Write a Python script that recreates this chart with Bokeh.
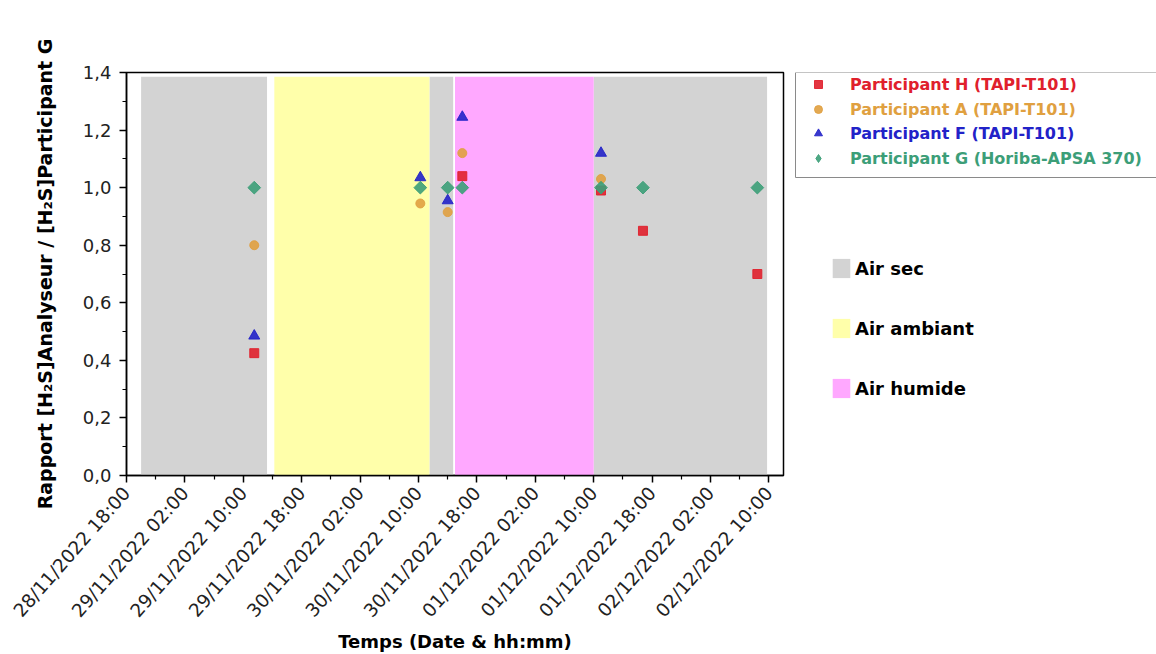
from datetime import datetime, timezone
from math import pi

from bokeh.plotting import figure
from bokeh.layouts import row
from bokeh.models import (Range1d, FixedTicker, DatetimeTickFormatter, CustomJSTickFormatter,
                          Legend, LegendItem, BoxAnnotation, ColumnDataSource)
from bokeh.embed import file_html
from bokeh.resources import INLINE

FMT = "%d/%m/%Y %H:%M"


def ms(s):
    return datetime.strptime(s, FMT).replace(tzinfo=timezone.utc).timestamp() * 1000.0


# ---------------- data ----------------
x_tick_labels = ["28/11/2022 18:00", "29/11/2022 02:00", "29/11/2022 10:00", "29/11/2022 18:00",
                 "30/11/2022 02:00", "30/11/2022 10:00", "30/11/2022 18:00", "01/12/2022 02:00",
                 "01/12/2022 10:00", "01/12/2022 18:00", "02/12/2022 02:00", "02/12/2022 10:00"]
x_start = "28/11/2022 18:00"
x_end = "02/12/2022 12:00"
y_ticks = [0.0, 0.2, 0.4, 0.6, 0.8, 1.0, 1.2, 1.4]
y_minor = [0.1, 0.3, 0.5, 0.7, 0.9, 1.1, 1.3]

period_start = ["28/11/2022 20:00", "29/11/2022 14:15", "30/11/2022 11:30", "30/11/2022 15:00", "01/12/2022 10:00"]
period_end = ["29/11/2022 13:15", "30/11/2022 11:30", "30/11/2022 14:45", "01/12/2022 10:00", "02/12/2022 09:45"]
period_type = ["Air sec", "Air ambiant", "Air sec", "Air humide", "Air sec"]
period_kinds = ["Air sec", "Air ambiant", "Air humide"]
period_top = 1.385

h_times = ["29/11/2022 11:30", "30/11/2022 16:00", "01/12/2022 11:00", "01/12/2022 16:45", "02/12/2022 08:25"]
h_ratio = [0.425, 1.04, 0.99, 0.85, 0.70]

a_times = ["29/11/2022 11:30", "30/11/2022 10:15", "30/11/2022 14:00", "30/11/2022 16:00", "01/12/2022 11:00"]
a_ratio = [0.80, 0.945, 0.915, 1.12, 1.03]

f_times = ["29/11/2022 11:30", "30/11/2022 10:15", "30/11/2022 14:00", "30/11/2022 16:00", "01/12/2022 11:00"]
f_ratio = [0.485, 1.035, 0.955, 1.245, 1.12]

g_times = ["29/11/2022 11:30", "30/11/2022 10:15", "30/11/2022 14:00", "30/11/2022 16:00",
           "01/12/2022 11:00", "01/12/2022 16:45", "02/12/2022 08:25"]
g_ratio = [1.0, 1.0, 1.0, 1.0, 1.0, 1.0, 1.0]

series_names = ["Participant H (TAPI-T101)", "Participant A (TAPI-T101)",
                "Participant F (TAPI-T101)", "Participant G (Horiba-APSA 370)"]

# ---------------- style ----------------
FONT = "DejaVu Sans"
period_colors = {"Air sec": "#D3D3D3", "Air ambiant": "#FFFFAA", "Air humide": "#FFA8FF"}
c_h, c_a, c_f, c_g = "#E0202C", "#E0A040", "#2222C8", "#3C9E78"
marker_styles = [dict(marker="square", size=9, angle=0.0, color=c_h),
                 dict(marker="circle", size=9, angle=0.0, color=c_a),
                 dict(marker="triangle", size=11, angle=0.0, color=c_f),
                 dict(marker="square", size=9, angle=pi / 4, color=c_g)]
legend_marker_styles = [dict(marker="square", size=7, angle=0.0, color=c_h),
                        dict(marker="circle", size=7, angle=0.0, color=c_a),
                        dict(marker="triangle", size=9, angle=0.0, color=c_f),
                        dict(marker="diamond", size=12, angle=0.0, color=c_g)]

# ---------------- sources ----------------
period_sources = {}
for kind in period_kinds:
    idx = [i for i, t in enumerate(period_type) if t == kind]
    period_sources[kind] = ColumnDataSource(dict(left=[ms(period_start[i]) for i in idx],
                                                 right=[ms(period_end[i]) for i in idx],
                                                 bottom=[0.0] * len(idx), top=[period_top] * len(idx)))
series_sources = [ColumnDataSource(dict(x=[ms(t) for t in times], y=vals))
                  for times, vals in zip([h_times, a_times, f_times, g_times],
                                         [h_ratio, a_ratio, f_ratio, g_ratio])]


def draw_periods(fig):
    return {k: fig.quad(left="left", right="right", bottom="bottom", top="top", source=period_sources[k],
                        fill_color=period_colors[k], line_color=None) for k in period_kinds}


def draw_series(fig, styles):
    return [fig.scatter("x", "y", source=src, marker=st["marker"], size=st["size"], angle=st["angle"],
                        fill_color=st["color"], line_color=st["color"], fill_alpha=0.9, line_alpha=0.9)
            for src, st in zip(series_sources, styles)]


# ---------------- main plot ----------------
p = figure(width=790, height=654, x_axis_type="datetime",
           x_range=Range1d(ms(x_start), ms(x_end)), y_range=Range1d(0, 1.4),
           output_backend="svg", toolbar_location=None,
           min_border_left=126, min_border_right=7, min_border_top=72, min_border_bottom=178)
p.background_fill_color = "white"
p.border_fill_color = "white"
p.xgrid.visible = False
p.ygrid.visible = False
p.outline_line_color = "black"
p.outline_line_width = 1.5
p.outline_line_alpha = 1

draw_periods(p)
draw_series(p, marker_styles)

major = [ms(s) for s in x_tick_labels]
minor = [(major[i] + major[i + 1]) / 2 for i in range(len(major) - 1)]
xa = p.xaxis[0]
xa.ticker = FixedTicker(ticks=major, minor_ticks=minor)
xa.formatter = DatetimeTickFormatter(microseconds=FMT, milliseconds=FMT, seconds=FMT, minsec=FMT,
                                     minutes=FMT, hourmin=FMT, hours=FMT, days=FMT, months=FMT, years=FMT)
xa.major_label_orientation = 0.85
xa.axis_label = "Temps (Date & hh:mm)"

ya = p.yaxis[0]
ya.ticker = FixedTicker(ticks=y_ticks, minor_ticks=y_minor)
ya.formatter = CustomJSTickFormatter(code="return tick.toFixed(1).replace('.', ',');")
ya.axis_label = "Rapport [H₂S]Analyseur / [H₂S]Participant G"

for ax in (xa, ya):
    ax.axis_line_width = 1.5
    ax.axis_line_color = "black"
    ax.major_tick_line_width = 1.5
    ax.minor_tick_line_width = 1.2
    ax.major_tick_line_color = "black"
    ax.minor_tick_line_color = "black"
    ax.major_tick_in = 0
    ax.major_tick_out = 7
    ax.minor_tick_in = 0
    ax.minor_tick_out = 4
    ax.major_label_text_font = FONT
    ax.major_label_text_font_size = "18px"
    ax.major_label_text_color = "#222222"
    ax.axis_label_text_font = FONT
    ax.axis_label_text_font_size = "19px"
    ax.axis_label_text_font_style = "bold"
    ax.axis_label_text_color = "black"
xa.major_label_text_font_size = "18.5px"
xa.axis_label_text_font_size = "18px"
xa.major_label_standoff = 7
xa.axis_label_standoff = 0
ya.major_label_standoff = 8
ya.axis_label_standoff = 24

# ---------------- legend panel (right) ----------------
q = figure(width=366, height=654, x_range=Range1d(0, 1), y_range=Range1d(0, 1),
           output_backend="svg", toolbar_location=None,
           min_border_left=0, min_border_right=0, min_border_top=72, min_border_bottom=178,
           x_axis_location=None, y_axis_location=None)
q.xgrid.visible = False
q.ygrid.visible = False
q.outline_line_color = None
q.background_fill_color = "white"
q.border_fill_color = "white"

q_periods = draw_periods(q)   # same data, outside this panel's view: only feeds the legend swatches
q_series = draw_series(q, legend_marker_styles)

box = BoxAnnotation(left=5, right=420, top=403, bottom=298,
                    left_units="screen", right_units="screen", top_units="screen", bottom_units="screen",
                    fill_alpha=0, line_color="#8A8A8A", line_width=1, line_alpha=1)
q.add_layout(box)

rows_vy = [381, 356, 332, 307]
for name, st, rend, vy in zip(series_names, marker_styles, q_series, rows_vy):
    lg = Legend(items=[LegendItem(label=name, renderers=[rend])], location=(18, vy),
                padding=0, margin=0, glyph_width=20, glyph_height=20, label_height=20,
                label_standoff=22, border_line_alpha=0, background_fill_alpha=0,
                label_text_font=FONT, label_text_font_size="16px", label_text_font_style="bold",
                label_text_color=st["color"])
    q.add_layout(lg, "center")

lg2 = Legend(items=[LegendItem(label=k, renderers=[q_periods[k]]) for k in period_kinds],
             location=(40, 75), padding=0, margin=0, glyph_width=22, glyph_height=24,
             label_height=24, spacing=36, label_standoff=3, border_line_alpha=0,
             background_fill_alpha=0, label_text_font=FONT, label_text_font_size="18px",
             label_text_font_style="bold", label_text_color="black")
q.add_layout(lg2, "center")

layout = row(p, q, spacing=0)
open("out.html", "w").write(file_html(layout, INLINE))
